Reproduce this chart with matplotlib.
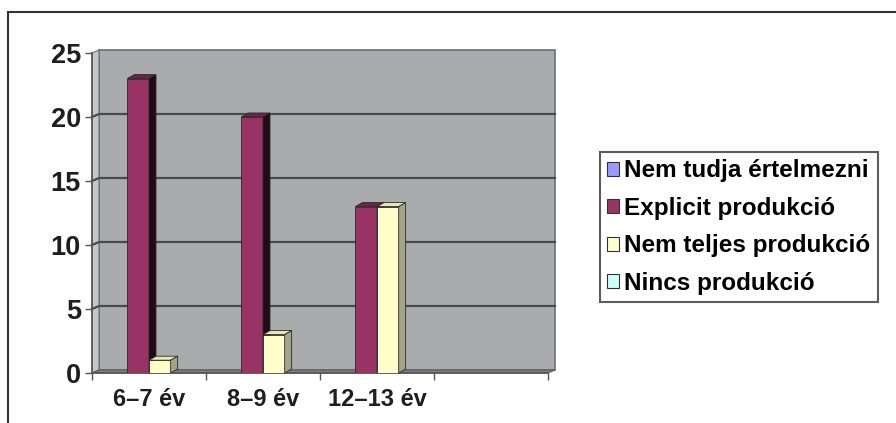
import matplotlib.pyplot as plt
from matplotlib.patches import Polygon, Rectangle, Patch
from matplotlib.transforms import IdentityTransform
import numpy as np

# data
categories = ['6–7 év', '8–9 év', '12–13 év']
series_names = ['Nem tudja értelmezni', 'Explicit produkció',
                'Nem teljes produkció', 'Nincs produkció']
nem_tudja = [0, 0, 0]
explicit = [23, 20, 13]
nem_teljes = [1, 3, 13]
nincs = [0, 0, 0]
yticks = [0, 5, 10, 15, 20, 25]

values = [nem_tudja, explicit, nem_teljes, nincs]
front_col = ['#9999FF', '#993366', '#FFFFCC', '#CCFFFF']
top_col = ['#7a7acc', '#6b2347', '#e8e8b4', '#b4e4e4']
side_col = ['#4d4d80', '#1f0a15', '#a3a38c', '#8aa3a3']

plt.rcParams['font.family'] = ['Liberation Sans', 'DejaVu Sans']
plt.rcParams['font.weight'] = 'bold'

W, H = 896, 423
fig = plt.figure(figsize=(W / 100, H / 100), dpi=100)
fig.patch.set_facecolor('white')

ax = fig.add_axes([92 / W, (H - 373) / H, 456 / W, 320 / H])
ax.set_xlim(-0.5, 3.5)
ax.set_ylim(0, 25)
ax.set_facecolor('none')

dx, dy = 7, 3  # wall depth in pixels
bdx, bdy = 7, 4  # bar depth in pixels


def px(x, y):
    return ax.transData.transform((x, y))


def poly(pts, **kw):
    p = Polygon(pts, closed=True, transform=IdentityTransform(), clip_on=False, **kw)
    ax.add_patch(p)


x0, x1 = ax.get_xlim()
d = np.array([dx, dy])
# back wall, side wall, floor
poly([px(x0, 0) + d, px(x1, 0) + d, px(x1, 25) + d, px(x0, 25) + d],
     facecolor='#a9abad', edgecolor='#6e6e6e', lw=1.2, zorder=0)
poly([px(x0, 0), px(x0, 0) + d, px(x0, 25) + d, px(x0, 25)],
     facecolor='#c4c6c8', edgecolor='#6e6e6e', lw=0.8, zorder=0.5)
poly([px(x0, 0), px(x1, 0), px(x1, 0) + d, px(x0, 0) + d],
     facecolor='#7d7f81', edgecolor='#5a5a5a', lw=0.8, zorder=0.5)

for yv in yticks[1:-1]:
    pts = np.array([px(x0, yv), px(x0, yv) + d, px(x1, yv) + d])
    ax.plot(pts[:, 0], pts[:, 1], color='#4a4a4a', lw=1.6,
            transform=IdentityTransform(), zorder=1, clip_on=False)

width = 0.19
xs = np.arange(len(categories))
bd = np.array([bdx, bdy])
for i, vals in enumerate(values):
    z = 3 + i
    for xc, v in zip(xs, vals):
        if v <= 0:
            continue
        left = xc + (i - 2) * width
        ax.bar(left, v, width=width, align='edge', color=front_col[i],
               edgecolor='#2a2a2a', linewidth=0.6, zorder=z)
        bl, br = px(left, v), px(left + width, v)
        poly([bl, br, br + bd, bl + bd], facecolor=top_col[i],
             edgecolor='#2a2a2a', lw=0.6, zorder=z)
        b0 = px(left + width, 0)
        poly([b0, br, br + bd, b0 + bd], facecolor=side_col[i],
             edgecolor='#2a2a2a', lw=0.6, zorder=z)

for s in ['top', 'right']:
    ax.spines[s].set_visible(False)
ax.spines['left'].set_color('#555555')
ax.spines['bottom'].set_color('#555555')
ax.spines['left'].set_linewidth(1.2)
ax.spines['bottom'].set_linewidth(1.2)

ax.set_yticks(yticks)
ax.set_yticklabels([str(t) for t in yticks], fontsize=19.5, fontweight='bold', color='#1e1e1e')
ax.tick_params(axis='y', length=5, width=1, color='#555555', pad=3)
ax.set_xticks(xs)
ax.set_xticklabels(categories, fontsize=17, fontweight='bold', color='#1e1e1e')
ax.set_xticks(np.arange(-0.5, 3.6, 1.0), minor=True)
ax.tick_params(axis='x', which='major', length=0, pad=11)
ax.tick_params(axis='x', which='minor', length=5, width=1, color='#555555')

handles = [Patch(facecolor=c, edgecolor='#333333', linewidth=0.8) for c in front_col]
leg = fig.legend(handles, series_names, loc='upper left',
                 bbox_to_anchor=(600 / W, (H - 152) / H),
                 prop={'family': 'Liberation Sans', 'weight': 'bold', 'size': 17.5},
                 frameon=True, fancybox=False, edgecolor='#333333',
                 handlelength=0.5, handleheight=0.5, handletextpad=0.2,
                 labelspacing=0.6, borderpad=0.3, borderaxespad=0)
leg.get_frame().set_linewidth(1.5)

# outer chart frame
fig.add_artist(Rectangle((8 / W, -0.5), 1.5, (H - 12) / H + 0.5,
                         transform=fig.transFigure, fill=False,
                         edgecolor='#333333', linewidth=1.5))

fig.savefig('out.png', dpi=100)
